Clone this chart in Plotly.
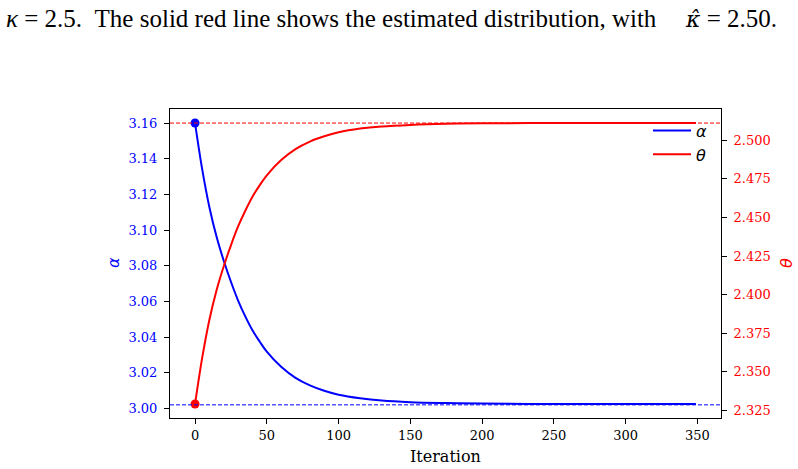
import plotly.graph_objects as go

# Data
iterations = [0, 5, 10, 15, 20, 25, 30, 35, 40, 45, 50, 60, 70, 80, 90, 100,
              115, 130, 150, 175, 200, 250, 300, 349]
alpha = [3.1600, 3.1340, 3.1128, 3.0962, 3.0828, 3.0710, 3.0605, 3.0516,
         3.0438, 3.0375, 3.0318, 3.0233, 3.0171, 3.0129, 3.0099, 3.0077,
         3.0057, 3.0044, 3.0035, 3.0030, 3.0027, 3.0025, 3.0025, 3.0025]
theta = [2.3292, 2.3592, 2.3838, 2.4029, 2.4184, 2.4320, 2.4442, 2.4544,
         2.4635, 2.4708, 2.4773, 2.4872, 2.4943, 2.4992, 2.5026, 2.5052,
         2.5076, 2.5090, 2.5100, 2.5107, 2.5110, 2.5112, 2.5112, 2.5112]
alpha_ref = 3.002
theta_ref = 2.5112
alpha_ticks = [3.00, 3.02, 3.04, 3.06, 3.08, 3.10, 3.12, 3.14, 3.16]
theta_ticks = [2.325, 2.350, 2.375, 2.400, 2.425, 2.450, 2.475, 2.500]
x_ticks = [0, 50, 100, 150, 200, 250, 300, 350]
caption_a = "<i>κ</i> = 2.5.  The solid red line shows the estimated distribution, with"
caption_b = "<span style='font-family:DejaVu Serif;font-size:22px'><i>κ̂</i></span> = 2.50."
x_title = "Iteration"
alpha_title = "<i>α</i>"
theta_title = "<i>θ</i>"

SERIF = "DejaVu Serif"
CAPFONT = "Liberation Serif"
BLUE = "#0000ff"
RED = "#ff0000"

fig = go.Figure()
fig.add_trace(go.Scatter(x=iterations, y=alpha, mode="lines", name=alpha_title,
                         line=dict(color=BLUE, width=2, shape="spline"), yaxis="y"))
fig.add_trace(go.Scatter(x=iterations, y=theta, mode="lines", name=theta_title,
                         line=dict(color=RED, width=2, shape="spline"), yaxis="y2"))
fig.add_trace(go.Scatter(x=iterations[:1], y=alpha[:1], mode="markers", showlegend=False,
                         marker=dict(color=BLUE, size=9), yaxis="y"))
fig.add_trace(go.Scatter(x=iterations[:1], y=theta[:1], mode="markers", showlegend=False,
                         marker=dict(color=RED, size=9), yaxis="y2"))

fig.add_shape(type="line", xref="paper", x0=0, x1=1, yref="y", y0=alpha_ref, y1=alpha_ref,
              line=dict(color=BLUE, width=1, dash="4px,2px"))
fig.add_shape(type="line", xref="paper", x0=0, x1=1, yref="y2", y0=theta_ref, y1=theta_ref,
              line=dict(color=RED, width=1, dash="4px,2px"))

PW, PH, PL, PT = 551, 309, 170, 109


def px_x(x):
    return (x - PL) / PW


def px_y(y):
    return 1 + (PT - y) / PH


cap_font = dict(family=CAPFONT, size=25, color="black")
fig.add_annotation(text=caption_a, xref="paper", yref="paper", x=px_x(4), y=px_y(18),
                   xanchor="left", yanchor="middle", showarrow=False, font=cap_font)
fig.add_annotation(text=caption_b, xref="paper", yref="paper", x=px_x(779), y=px_y(18),
                   xanchor="right", yanchor="middle", showarrow=False, font=cap_font)

fig.add_annotation(text=x_title, xref="paper", yref="paper", x=px_x(445.5), y=px_y(456),
                   xanchor="center", yanchor="middle", showarrow=False,
                   font=dict(family=SERIF, size=16, color="black"))
fig.add_annotation(text=alpha_title, xref="paper", yref="paper", x=px_x(113), y=px_y(263),
                   xanchor="center", yanchor="middle", showarrow=False, textangle=-90,
                   font=dict(family="DejaVu Sans", size=16, color=BLUE))
fig.add_annotation(text=theta_title, xref="paper", yref="paper", x=px_x(786), y=px_y(263),
                   xanchor="center", yanchor="middle", showarrow=False, textangle=-90,
                   font=dict(family="DejaVu Sans", size=16, color=RED))

axis_common = dict(showgrid=False, zeroline=False, ticks="outside", ticklen=5,
                   tickwidth=1, tickcolor="black", linecolor="black", linewidth=1,
                   automargin=False)

a_lo, a_hi = 3.0025 - 0.007875, 3.16 + 0.007875
t_lo, t_hi = 2.3292 - 0.0091, 2.5112 + 0.0091

fig.update_layout(
    width=798, height=469,
    margin=dict(l=PL, r=798 - PL - PW, t=PT, b=469 - PT - PH),
    plot_bgcolor="white", paper_bgcolor="white",
    font=dict(family=SERIF),
    showlegend=True,
    legend=dict(x=px_x(648), xanchor="left", y=0.985, yanchor="top",
                bgcolor="rgba(255,255,255,0)", font=dict(family="DejaVu Sans", size=16, color="black"),
                itemwidth=38, tracegroupgap=0),
    xaxis=dict(range=[-17.45, 366.45], tickvals=x_ticks, mirror=True,
               tickfont=dict(family=SERIF, size=13, color="black"),
               **axis_common),
    yaxis=dict(range=[a_lo, a_hi], tickvals=alpha_ticks, tickformat=".2f",
               ticklabelstandoff=4,
               tickfont=dict(family=SERIF, size=13, color=BLUE),
               **axis_common),
    yaxis2=dict(range=[t_lo, t_hi], tickvals=theta_ticks, tickformat=".3f", overlaying="y",
                side="right", anchor="x", ticklabelstandoff=4,
                tickfont=dict(family=SERIF, size=13, color=RED),
                **axis_common),
)

fig.write_html("out.html")
